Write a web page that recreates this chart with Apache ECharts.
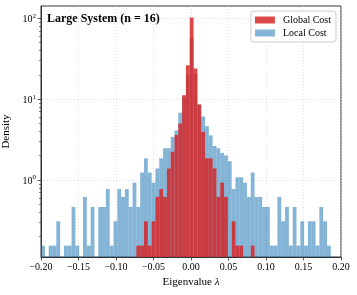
<!DOCTYPE html>
<html><head><meta charset="utf-8">
<script src="https://cdn.jsdelivr.net/npm/echarts@6/dist/echarts.min.js"></script>
<style>html,body{margin:0;padding:0;background:#fff}#c{width:357px;height:295px}</style>
</head><body><div id="c"></div>
<script>
// Histogram bins (shared by both series)
const binStart = -0.1999;
const binWidth = 0.005083;

// Local Cost density per bin (76 bins)
const localDensity = [
  0.155,0,0.155,0.155,0.31,0,0.155,0.155,0.465,0.155,0,0.62,0.155,0.465,0,0.465,0.465,0.775,
  0.155,0.31,0.775,0.62,0.775,0.465,0.93,0.465,1.24,1.86,1.24,0.93,1.395,1.86,2.48,
  2.48,3.42,4.1,6.8,10.5,19.8,58,20.5,8.6,6.1,
  4.65,3.57,2.64,2.48,2.17,2.02,1.71,0.775,1.085,1.085,0.93,0.62,1.24,
  0.62,0.62,0.465,0.465,0.155,0.155,0.62,0.31,0.465,0.155,0.465,0.155,0.31,0.155,0.31,0.31,0.155,0.465,0.31,0.155
];

// Global Cost density per bin (76 bins)
const globalDensity = [
  0,0,0,0,0,0,0,0,0,0,0,0,0,0,0,0,0,0,0,0,0,0,0,0,0,
  0.155,0.155,0.31,0.155,0.31,0.62,0.775,0.62,1.39,2.24,3.6,5.0,11.2,26.3,102,23.9,8.6,3.95,1.86,1.86,1.395,0.62,0.93,0.62,0,0.31,0.155,0.155,0,0,0.155,
  0,0,0,0,0,0,0,0,0,0,0,0,0,0,0,0,0,0,0,0
];

const seriesNames = ['Global Cost', 'Local Cost'];
const xTicks = [-0.2, -0.15, -0.1, -0.05, 0, 0.05, 0.1, 0.15, 0.2];
const yMajorTicks = [1, 10, 100];
const yMinorTicks = [0.2,0.3,0.4,0.5,0.6,0.7,0.8,0.9,2,3,4,5,6,7,8,9,20,30,40,50,60,70,80,90];

const X_MIN = -0.2, X_MAX = 0.2, Y_MIN = 0.112, Y_MAX = 142;
const FONT = 'Liberation Serif';
const BLUE = 'rgba(31,119,180,0.55)';
const RED = 'rgba(214,39,40,0.85)';

function toRects(arr) {
  const out = [];
  arr.forEach((v, i) => {
    if (v > 0) out.push([binStart + i * binWidth, binStart + (i + 1) * binWidth, v]);
  });
  return out;
}
function makeRender(color) {
  return function (params, api) {
    const tl = api.coord([api.value(0), api.value(2)]);
    const br = api.coord([api.value(1), Y_MIN]);
    return { type: 'rect', shape: { x: tl[0], y: tl[1], width: br[0] - tl[0], height: br[1] - tl[1] },
      style: { fill: color } };
  };
}
const fmtX = v => (v < 0 ? '\u2212' : '') + Math.abs(v).toFixed(2);

const chart = echarts.init(document.getElementById('c'), null, { renderer: 'canvas' });
chart.setOption({
  animation: false,
  backgroundColor: '#fff',
  title: {
    text: 'Large System (n = 16)', left: 47, top: 13, padding: 0,
    textStyle: { fontFamily: FONT, fontWeight: 'bold', fontSize: 12, color: '#000' }
  },
  legend: {
    data: seriesNames, orient: 'vertical', right: 21, top: 11,
    padding: [4, 5, 4, 4], itemGap: 3, itemWidth: 20, itemHeight: 7, icon: 'rect',
    borderColor: '#ccc', borderWidth: 1, borderRadius: 3, backgroundColor: '#fff',
    textStyle: { fontFamily: FONT, fontSize: 10, color: '#000', padding: [0, 0, 0, 3] }
  },
  grid: { left: 41, top: 6, width: 300, height: 251, show: true, borderColor: '#333', borderWidth: 1,
    outerBoundsMode: 'none', containLabel: false },
  xAxis: {
    type: 'value', min: X_MIN, max: X_MAX, interval: 0.05,
    name: 'Eigenvalue {i|\u03bb}', nameLocation: 'middle', nameGap: 19,
    nameTextStyle: { fontFamily: FONT, fontSize: 11, color: '#000',
      rich: { i: { fontFamily: FONT, fontStyle: 'italic', fontSize: 11, color: '#000' } } },
    axisLine: { show: true, onZero: false, lineStyle: { color: '#333', width: 1 } },
    axisTick: { show: true, inside: false, length: 3.5, customValues: xTicks, lineStyle: { color: '#333', width: 0.8 } },
    axisLabel: { fontFamily: FONT, fontSize: 10, color: '#000', margin: 5, customValues: xTicks, formatter: fmtX },
    splitLine: { show: true, lineStyle: { color: '#d8d8d8', width: 0.8, type: [1, 2] } }
  },
  yAxis: [{
    type: 'log', logBase: 10, min: Y_MIN, max: Y_MAX,
    name: 'Density', nameLocation: 'middle', nameGap: 21,
    nameTextStyle: { fontFamily: FONT, fontSize: 11, color: '#000' },
    axisLine: { show: true, onZero: false, lineStyle: { color: '#333', width: 1 } },
    axisTick: { show: true, inside: false, length: 3.5, customValues: yMajorTicks, lineStyle: { color: '#333', width: 0.8 } },
    axisLabel: {
      margin: 5, customValues: yMajorTicks, color: '#000',
      formatter: v => '{b|10}{s|' + Math.round(Math.log10(v)) + '}',
      rich: {
        b: { fontFamily: FONT, fontSize: 10, color: '#000', verticalAlign: 'bottom' },
        s: { fontFamily: FONT, fontSize: 7, color: '#000', verticalAlign: 'top', padding: [0, 0, 5, 0] }
      }
    },
    splitLine: { show: true, lineStyle: { color: '#d8d8d8', width: 0.8, type: [1, 2] } }
  }, {
    type: 'log', logBase: 10, min: Y_MIN, max: Y_MAX, position: 'left',
    axisLine: { show: false, onZero: false }, axisLabel: { show: false }, splitLine: { show: false },
    axisTick: { show: true, inside: false, length: 2, customValues: yMinorTicks, lineStyle: { color: '#333', width: 0.6 } }
  }],
  series: [
    { name: 'Local Cost', type: 'custom', renderItem: makeRender(BLUE), data: toRects(localDensity),
      encode: { x: [0, 1], y: 2 }, itemStyle: { color: BLUE }, clip: true, z: 2 },
    { name: 'Global Cost', type: 'custom', renderItem: makeRender(RED), data: toRects(globalDensity),
      encode: { x: [0, 1], y: 2 }, itemStyle: { color: RED }, clip: true, z: 3 }
  ]
});
</script></body></html>
